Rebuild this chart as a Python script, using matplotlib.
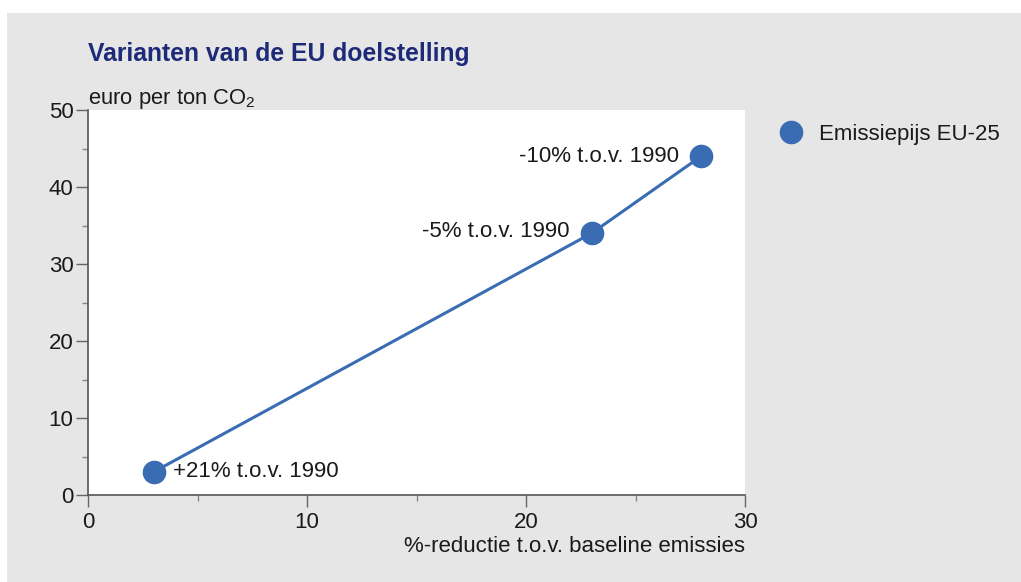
import numpy as np
import matplotlib
matplotlib.use("Agg")
import matplotlib.pyplot as plt
from matplotlib.ticker import MultipleLocator
from matplotlib.patches import Rectangle

plt.rcParams['font.family'] = ['Liberation Sans', 'DejaVu Sans']
plt.rcParams['mathtext.fontset'] = 'custom'
plt.rcParams['mathtext.rm'] = 'Liberation Sans'
plt.rcParams['mathtext.it'] = 'Liberation Sans'

# data
reduction = [3, 23, 28]
price = [3, 34, 44]
labels = ["+21% t.o.v. 1990", "-5% t.o.v. 1990", "-10% t.o.v. 1990"]
series_name = "Emissiepijs EU-25"

blue = "#3a6cb4"
grey_bg = "#e6e6e6"
txt = "#1a1a1a"

fig = plt.figure(figsize=(10.21, 5.82), dpi=100)
fig.patch.set_facecolor("white")
# grey panel behind everything
fig.patches.append(Rectangle((7 / 1021, 0), 1 - 7 / 1021, 1 - 13 / 582,
                             transform=fig.transFigure, facecolor=grey_bg,
                             edgecolor="none", zorder=-5))

ax = fig.add_axes([88 / 1021, 87 / 582, 657 / 1021, 385 / 582])
ax.set_zorder(2)
ax.set_facecolor("white")

ax.plot(reduction, price, color=blue, lw=2.2, marker="o", ms=16,
        markeredgecolor=blue, label=series_name, zorder=3, clip_on=False)

offsets = [(14, 0), (-16, 1), (-16, 0)]
aligns = ["left", "right", "right"]
for x, y, lab, off, ha in zip(reduction, price, labels, offsets, aligns):
    ax.annotate(lab, (x, y), xytext=off, textcoords="offset points",
                ha=ha, va="center", fontsize=16, color=txt)

ax.set_xlim(0, 30)
ax.set_ylim(0, 50)
ax.xaxis.set_major_locator(MultipleLocator(10))
ax.xaxis.set_minor_locator(MultipleLocator(5))
ax.yaxis.set_major_locator(MultipleLocator(10))
ax.yaxis.set_minor_locator(MultipleLocator(5))

for s in ["top", "right"]:
    ax.spines[s].set_visible(False)
for s in ["left", "bottom"]:
    ax.spines[s].set_color("#555555")
    ax.spines[s].set_linewidth(1.2)

ax.tick_params(which="major", length=8.5, width=1, color="#666666",
               labelsize=16, labelcolor=txt, pad=2)
ax.tick_params(which="minor", length=4.5, width=1, color="#888888")
ax.tick_params(axis="x", which="major", pad=4)

ax.set_xlabel("%-reductie t.o.v. baseline emissies", fontsize=16,
              color=txt, ha="right", x=1.0, labelpad=2)

fig.text(88 / 1021, 1 - 54 / 582, "Varianten van de EU doelstelling",
         fontsize=17.8, fontweight="bold", color="#1c2a78", va="center")
fig.text(88 / 1021, 1 - 99 / 582, "euro per ton CO$_2$",
         fontsize=15.8, color=txt, va="center")

ax.legend(loc="upper left", bbox_to_anchor=(1.03, 1.005), frameon=False,
          fontsize=16, handlelength=1.0, handletextpad=0.75,
          labelcolor=txt, borderaxespad=0.3)
leg = ax.get_legend()
leg.legend_handles[0].set_linestyle("none")

fig.savefig("out.png", dpi=100, facecolor=fig.get_facecolor())
